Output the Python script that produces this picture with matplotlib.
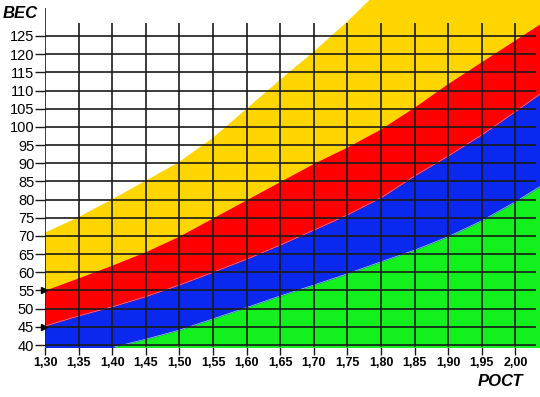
import numpy as np
import matplotlib
matplotlib.use("Agg")
import matplotlib.pyplot as plt

plt.rcParams['font.family'] = ['Liberation Sans', 'DejaVu Sans']

# ---------------------------------------------------------------------------
# data (height in m, weight in kg)
# ---------------------------------------------------------------------------
heights = [1.30, 1.35, 1.40, 1.45, 1.50, 1.55, 1.60, 1.65, 1.70, 1.75,
           1.80, 1.85, 1.90, 1.95, 2.00, 2.04]

# upper edge of each band
yellow_top = [70.9, 75.2, 80.1, 85.2, 90.4, 97.0, 105.0, 113.0, 120.7, 129.0,
              138.0, 147.0, 156.0, 165.0, 174.0, 181.0]
red_top    = [55.1, 58.5, 62.0, 65.7, 70.0, 75.0, 80.0, 85.0, 90.0, 94.5,
              99.5, 105.5, 112.0, 118.0, 124.0, 128.8]
blue_top   = [45.2, 48.0, 50.5, 53.3, 56.5, 60.0, 63.6, 67.5, 71.6, 75.8,
              80.5, 86.5, 92.0, 97.8, 104.2, 109.5]
green_top  = [35.0, 37.2, 39.3, 41.6, 44.1, 47.2, 50.3, 53.5, 56.5, 59.6,
              62.9, 66.1, 69.8, 74.2, 79.4, 84.0]

x_ticks = [1.30, 1.35, 1.40, 1.45, 1.50, 1.55, 1.60, 1.65, 1.70, 1.75,
           1.80, 1.85, 1.90, 1.95, 2.00]
x_labels = ["1,30", "1,35", "1,40", "1,45", "1,50", "1,55", "1,60", "1,65",
            "1,70", "1,75", "1,80", "1,85", "1,90", "1,95", "2,00"]
y_ticks = list(range(40, 130, 5))

# ---------------------------------------------------------------------------
W, H = 540, 397
fig = plt.figure(figsize=(W / 100, H / 100), dpi=100)
ax = fig.add_axes([45 / W, 50 / H, 1 - 45 / W, 1 - 50 / H])

xmin, xmax = 1.30, 2.0365
ymin, ymax = 39.45, 134.9
ax.set_xlim(xmin, xmax)
ax.set_ylim(ymin, ymax)

h = np.array(heights)
ax.fill_between(h, ymin - 10, yellow_top, color="#FFD500", lw=0, zorder=1)
ax.fill_between(h, ymin - 10, red_top, color="#FF0000", lw=0, zorder=2)
ax.fill_between(h, ymin - 10, blue_top, color="#0A28EE", lw=0, zorder=3)
ax.fill_between(h, ymin - 10, green_top, color="#12F01E", lw=0, zorder=4)
# light seams between the bands
ax.plot(h, blue_top, color="#E8A0E8", lw=0.4, zorder=4.5)
ax.plot(h, green_top, color="#C8FFD0", lw=0.4, zorder=4.5)

# grid
grid_col = "#1a1a1a"
ax.hlines(y_ticks, xmin, 2.0306, color=grid_col, lw=1.2, zorder=5)
ax.vlines(x_ticks[1:], ymin, 128.6, color=grid_col, lw=1.2, zorder=5)
ax.vlines(x_ticks[0], ymin, 132.7, color=grid_col, lw=1.2, zorder=5)

# small arrow heads at 55 and 45
for yv in (55, 45):
    ax.plot(xmin - 0.001, yv, marker=">", ms=4.5, color="black",
            clip_on=False, zorder=6)

for s in ax.spines.values():
    s.set_visible(False)

ax.set_xticks(x_ticks)
ax.set_xticklabels(x_labels, fontsize=9, fontweight="bold")
ax.set_yticks(y_ticks)
ax.set_yticklabels([str(v) for v in y_ticks], fontsize=10.5)
ax.tick_params(axis="y", direction="out", length=7.2, width=1.0,
               color=grid_col, pad=0.5)
ax.tick_params(axis="x", direction="out", length=5.8, width=1.0,
               color=grid_col, pad=1.5)

fig.text(3 / W, 1 - 13 / H, "ВЕС", fontsize=12, fontweight="bold",
         fontstyle="italic", ha="left", va="center")
fig.text(500 / W, 1 - 381 / H, "РОСТ", fontsize=12, fontweight="bold",
         fontstyle="italic", ha="center", va="center")

fig.savefig("out.png", dpi=100)
